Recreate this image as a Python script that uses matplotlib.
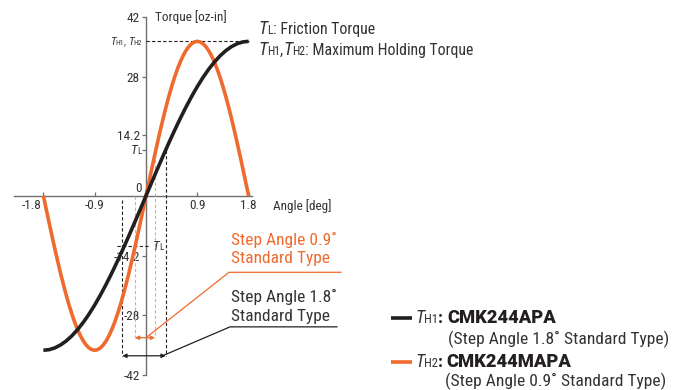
import numpy as np
import matplotlib
matplotlib.use("Agg")
import matplotlib.pyplot as plt
from matplotlib import font_manager as fm
from matplotlib.offsetbox import TextArea, HPacker, AnnotationBbox
from matplotlib.lines import Line2D

# ---------------- data ----------------
angle_black = np.linspace(-1.8, 1.8, 37)           # deg, 0.1 step
torque_black = [-36.3, -36.16, -35.75, -35.06, -34.11, -32.90, -31.44, -29.74, -27.81,
                -25.67, -23.33, -20.82, -18.15, -15.34, -12.41, -9.39, -6.30, -3.17,
                0.0,
                3.17, 6.30, 9.39, 12.41, 15.34, 18.15, 20.82, 23.33, 25.67,
                27.81, 29.74, 31.44, 32.90, 34.11, 35.06, 35.75, 36.16, 36.3]

angle_orange = np.linspace(-1.8, 1.8, 73)          # deg, 0.05 step
torque_orange = [0.0, -3.17, -6.30, -9.39, -12.41, -15.34, -18.15, -20.82, -23.33, -25.67,
                 -27.81, -29.74, -31.44, -32.90, -34.11, -35.06, -35.75, -36.16, -36.3,
                 -36.16, -35.75, -35.06, -34.11, -32.90, -31.44, -29.74, -27.81, -25.67,
                 -23.33, -20.82, -18.15, -15.34, -12.41, -9.39, -6.30, -3.17,
                 0.0,
                 3.17, 6.30, 9.39, 12.41, 15.34, 18.15, 20.82, 23.33, 25.67, 27.81,
                 29.74, 31.44, 32.90, 34.11, 35.06, 35.75, 36.16, 36.3,
                 36.16, 35.75, 35.06, 34.11, 32.90, 31.44, 29.74, 27.81, 25.67, 23.33,
                 20.82, 18.15, 15.34, 12.41, 9.39, 6.30, 3.17, 0.0]

x_ticks = [-1.8, -0.9, 0.9, 1.8]
x_tick_labels = ["-1.8", "-0.9", "0.9", "1.8"]
y_ticks = [-42, -28, -14.2, 14.2, 28, 42]
y_tick_labels = ["-42", "-28", "-14.2", "14.2", "28", "42"]

TH = 36.3          # max holding torque
TL_pos = 10.7      # friction torque (upper marker)
TL_neg = -11.7     # friction torque (lower marker)
black_band = [-0.416, 0.346]
orange_band = [-0.193, 0.158]

# ---------------- style ----------------
avail = {f.name for f in fm.fontManager.ttflist}
FAM = "Liberation Sans"
for cand in ["Liberation Sans Narrow", "Roboto Condensed", "Open Sans Condensed", "Liberation Sans"]:
    if cand in avail:
        FAM = cand
        break
FAMS = [FAM, "DejaVu Sans"]
BOLDFAMS = ["Roboto", "DejaVu Sans"] if "Roboto" in avail else FAMS
plt.rcParams["font.family"] = FAMS

ORANGE = "#EF6A2D"
LORANGE = "#F5A47C"
BLACK = "#231F20"
TXT = "#333333"
AXC = "#6E6E6E"

W, H = 683, 390
fig = plt.figure(figsize=(W / 100, H / 100), dpi=100)
X0PX, XS = 146.0, 57.0
Y0PX, YS = 195.8, 4.255
ax = fig.add_axes([0, 0, 1, 1])
ax.set_xlim(-X0PX / XS, (W - X0PX) / XS)
ax.set_ylim((Y0PX - H) / YS, Y0PX / YS)
ax.patch.set_alpha(0)

for s in ["top", "right"]:
    ax.spines[s].set_visible(False)
ax.spines["left"].set_position(("data", 0))
ax.spines["bottom"].set_position(("data", 0))
ax.spines["left"].set_bounds(-42, 42)
ax.spines["bottom"].set_bounds(-(X0PX - 14) / XS, (252 - X0PX) / XS)
for s in ["left", "bottom"]:
    ax.spines[s].set_color(AXC)
    ax.spines[s].set_linewidth(1.0)

ax.set_xticks(x_ticks)
ax.set_xticklabels([""] * len(x_ticks))
ax.tick_params(axis="x", direction="in", length=3, width=0.9, color=AXC)
ax.set_yticks(y_ticks + [TL_pos])
ax.set_yticklabels(y_tick_labels + [""], fontsize=9.5, color=TXT)
ax.tick_params(axis="y", direction="out", length=3, width=0.9, color=AXC, pad=1.5)

# x tick labels (manual so the -1.8 label can sit left of the curve)
xoff = {"-1.8": -12}
for v, lbl in zip(x_ticks, x_tick_labels):
    ax.annotate(lbl, xy=(v, 0), xytext=(xoff.get(lbl, 0), -10), textcoords="offset pixels",
                ha="center", va="center", fontsize=9.5, color=TXT)
ax.annotate("0", xy=(0, 0), xytext=(-4, 7), textcoords="offset pixels",
            ha="right", va="center", fontsize=9.5, color=TXT)

def fx(px):
    return px / W

def fy(py):
    return 1 - py / H

fig.text(fx(155), fy(17), "Torque [oz-in]", fontsize=9.5, color=TXT, va="center", ha="left")
fig.text(fx(273), fy(206), "Angle [deg]", fontsize=9.5, color=TXT, va="center", ha="left")

def rich(parts, px, py, align="left"):
    areas = []
    for t, size, style, weight, color, fams in parts:
        areas.append(TextArea(t, textprops=dict(fontsize=size, fontstyle=style, fontweight=weight,
                                                color=color, family=fams)))
    box = HPacker(children=areas, align="baseline", pad=0, sep=0)
    ab = AnnotationBbox(box, (px, H - py), xycoords="figure pixels",
                        box_alignment=(0 if align == "left" else 1, 0.5),
                        frameon=False, pad=0)
    fig.add_artist(ab)

def P(t, size, style="normal", weight="normal", color=TXT, fams=None):
    return (t, size, style, weight, color, fams or FAMS)

# ---------------- curves ----------------
ax.plot(angle_orange, torque_orange, color=ORANGE, lw=2.6, solid_capstyle="butt", zorder=4)
ax.plot(angle_black, torque_black, color=BLACK, lw=2.6, solid_capstyle="butt", zorder=5)

# ---------------- reference dashed lines ----------------
dash = dict(lw=0.8, ls=(0, (3, 2)), zorder=3)
ax.plot([0, 1.8], [TH, TH], color=BLACK, **dash)
y_arrow_black = -37.6
y_arrow_orange = -33.35
ax.plot([black_band[1]] * 2, [TL_pos, y_arrow_black], color=BLACK, **dash)
ax.plot([black_band[0]] * 2, [-1.0, y_arrow_black], color=BLACK, **dash)
ax.plot([-0.51, 0.07], [TL_neg, TL_neg], color=BLACK, **dash)
ax.plot([orange_band[0]] * 2, [0, y_arrow_orange], color=LORANGE, **dash)
ax.plot([orange_band[1]] * 2, [9.9, y_arrow_orange], color=LORANGE, **dash)

ax.annotate("", xy=(black_band[0], y_arrow_black), xytext=(black_band[1], y_arrow_black),
            arrowprops=dict(arrowstyle="<|-|>", color=BLACK, lw=0.9, mutation_scale=6,
                            shrinkA=0, shrinkB=0))
ax.annotate("", xy=(orange_band[0], y_arrow_orange), xytext=(orange_band[1], y_arrow_orange),
            arrowprops=dict(arrowstyle="<|-|>", color=ORANGE, lw=0.9, mutation_scale=6,
                            shrinkA=0, shrinkB=0))

# leader lines
ax.plot([0.0, 1.456, 3.42], [y_arrow_orange, -17.98, -17.98], color=ORANGE, lw=0.9, zorder=3)
ax.plot([0.29, 1.474, 3.35], [y_arrow_black, -30.8, -30.8], color=BLACK, lw=0.9, zorder=3)

# ---------------- annotations ----------------
rich([P("T", 8, "italic"), P("H1", 5.5), P(", ", 7), P("T", 8, "italic"), P("H2", 5.5)],
     142, 41.7, align="right")
rich([P("T", 9.5, "italic"), P("L", 6.5)], 142, 150, align="right")
rich([P("T", 9.5, "italic"), P("L", 6.5)], 153, 246)

rich([P("T", 13, "italic"), P("L", 8.5), P(": Friction Torque", 11.4)], 258, 29)
rich([P("T", 13, "italic"), P("H1", 8.5), P(",", 11.4), P("T", 13, "italic"), P("H2", 8.5),
      P(": Maximum Holding Torque", 11.4)], 258, 50)

fig.text(fx(231), fy(240), "Step Angle 0.9˚", fontsize=12.5, color=ORANGE, va="center")
fig.text(fx(231), fy(259), "Standard Type", fontsize=12.5, color=ORANGE, va="center")
fig.text(fx(231), fy(297), "Step Angle 1.8˚", fontsize=12.5, color=TXT, va="center")
fig.text(fx(231), fy(317), "Standard Type", fontsize=12.5, color=TXT, va="center")

# legend
fig.add_artist(Line2D([fx(391), fx(412)], [fy(318), fy(318)], transform=fig.transFigure,
                      color=BLACK, lw=2.6, solid_capstyle="butt"))
fig.add_artist(Line2D([fx(391), fx(412)], [fy(362), fy(362)], transform=fig.transFigure,
                      color=ORANGE, lw=2.6, solid_capstyle="butt"))
rich([P("T", 13, "italic"), P("H1", 9), P(": ", 12.5, weight="bold", color=BLACK),
      P("CMK244APA", 13.2, weight="heavy", color=BLACK, fams=BOLDFAMS)], 415, 318)
rich([P("T", 13, "italic"), P("H2", 9), P(": ", 12.5, weight="bold", color=BLACK),
      P("CMK244MAPA", 13.2, weight="heavy", color=BLACK, fams=BOLDFAMS)], 415, 362)
fig.text(fx(448), fy(339), "(Step Angle 1.8˚ Standard Type)", fontsize=12.6, color=TXT, va="center")
fig.text(fx(445), fy(381), "(Step Angle 0.9˚ Standard Type)", fontsize=12.6, color=TXT, va="center")

fig.savefig("out.png", dpi=100)
